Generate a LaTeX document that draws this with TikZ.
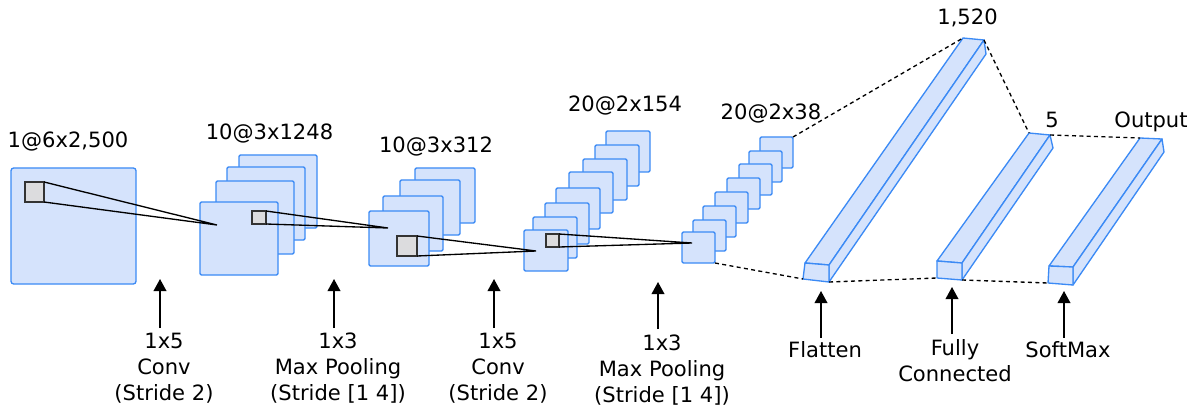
\documentclass[tikz,border=0pt]{standalone}
\usepackage{fontspec}
\setmainfont{DejaVu Sans}
\usetikzlibrary{arrows.meta}
\definecolor{mapfill}{HTML}{D5E3FC}
\definecolor{mapline}{HTML}{3B8AF5}
\definecolor{kerfill}{HTML}{DCDCDE}
\definecolor{kerline}{HTML}{333333}

\begin{document}
\begin{tikzpicture}[x=0.75pt, y=-0.75pt, >={Triangle[width=9.5pt,length=9pt]},
    fmap/.style={draw=mapline, fill=mapfill, line width=1pt, rounded corners=1pt,
      anchor=north west, inner sep=0pt, outer sep=0pt},
    kern/.style={draw=kerline, fill=kerfill, line width=1pt, anchor=north west,
      inner sep=0pt, outer sep=0pt},
    bar/.style={draw=mapline, fill=mapfill, line width=1pt, line join=round},
    ray/.style={line width=1pt},
    link/.style={line width=1pt, dash pattern=on 3pt off 2.5pt},
    txt/.style={font=\fontsize{15.8}{19.5}\selectfont, inner sep=0pt},
    lab/.style={txt, align=center, anchor=north}]
    \useasboundingbox (0,0) rectangle (1199,406);
    % input
    \node[fmap, rounded corners=2pt, minimum width=93.75pt, minimum height=87pt] (In) at (11,168) {};
    \node[kern, minimum width=14.25pt, minimum height=15pt] (KIn) at (25,182) {};
    % conv 1
    \foreach \x/\y [count=\i] in {239/155,227/167,216/181,200/202}
        \node[fmap, minimum width=58.5pt, minimum height=54.75pt] (Cv\i) at (\x,\y) {};
    \node[kern, minimum width=10.5pt, minimum height=9.75pt] (KCv) at (252,211) {};
    % pool 1
    \foreach \x/\y [count=\i] in {415/168,400/180,383/196,369/211}
        \node[fmap, minimum width=45pt, minimum height=41.25pt] (Pl\i) at (\x,\y) {};
    \node[kern, minimum width=15pt, minimum height=15pt] (KPl) at (397,236) {};
    % conv 2
    \foreach \x/\y [count=\i] in {606/131,595/145,583/159,569/172,556/188,545/203,533/217,524/230}
        \node[fmap, minimum width=33pt, minimum height=30.75pt] (Cw\i) at (\x,\y) {};
    \node[kern, minimum width=9.75pt, minimum height=9.75pt] (KCw) at (546,234) {};
    % pool 2
    \foreach \x/\y [count=\i] in {760/137,749/151,739/164,727/178,715/192,703/206,693/220,682/232}
        \node[fmap, minimum width=24.75pt, minimum height=23.25pt] (Pm\i) at (\x,\y) {};
    % receptive fields
    \coordinate (Apex1) at (217,225);
    \coordinate (Apex2) at (388,228);
    \coordinate (Apex3) at (536,251);
    \coordinate (Apex4) at (692,243);
    \draw[ray] (KIn.north east) -- (Apex1) -- (KIn.south east);
    \draw[ray] (KCv.north east) -- (Apex2) -- (KCv.south east);
    \draw[ray] (KPl.north east) -- (Apex3) -- (KPl.south east);
    \draw[ray] (KCw.north east) -- (Apex4) -- (KCw.south east);
    % dense bars
    \coordinate (FlA) at (805,263); \coordinate (FlB) at (829,265); \coordinate (FlC) at (829,282);
    \coordinate (FlD) at (803,279); \coordinate (FlE) at (963,38);  \coordinate (FlF) at (984,40);
    \coordinate (FlG) at (986,54);
    \coordinate (FcA) at (937,261); \coordinate (FcB) at (962,263); \coordinate (FcC) at (962,280);
    \coordinate (FcD) at (937,278); \coordinate (FcE) at (1029,133); \coordinate (FcF) at (1050,135);
    \coordinate (FcG) at (1053,148);
    \coordinate (OutA) at (1049,266); \coordinate (OutB) at (1073,267); \coordinate (OutC) at (1073,285);
    \coordinate (OutD) at (1048,283); \coordinate (OutE) at (1140,138); \coordinate (OutF) at (1162,139);
    \coordinate (OutG) at (1164,152);
    \foreach \b in {Fl,Fc,Out} {
        \draw[bar] (\b A) -- (\b B) -- (\b F) -- (\b E) -- cycle;
        \draw[bar] (\b B) -- (\b C) -- (\b G) -- (\b F) -- cycle;
        \draw[bar] (\b A) -- (\b B) -- (\b C) -- (\b D) -- cycle;
    }
    \draw[link] (Pm1.north east) -- (FlE);
    \draw[link] (Pm8.south east) -- (FlD);
    \draw[link] (FlF) -- (FcE);
    \draw[link] (FcF) -- (OutE);
    \draw[link] (FlC) -- (FcD);
    \draw[link] (FcC) -- (OutD);
    % sizes
    \node[txt, anchor=base] (SzIn) at (68,148) {1@6x2,500};
    \node[txt, anchor=base] (SzCv) at (269.5,140) {10@3x1248};
    \node[txt, anchor=base] (SzPl) at (436,153) {10@3x312};
    \node[txt, anchor=base] (SzCw) at (625,112) {20@2x154};
    \node[txt, anchor=base] (SzPm) at (771,120) {20@2x38};
    \node[txt, anchor=base] (SzFl) at (967.5,25) {1,520};
    \node[txt, anchor=base] (SzFc) at (1052,128) {5};
    \node[txt, anchor=base] (SzOut) at (1151,128) {Output};
    % operations
    \node[lab] (OpA) at (164,333) {1x5\\Conv\\(Stride 2)};
    \node[lab] (OpB) at (338,333) {1x3\\Max Pooling\\(Stride [1 4])};
    \node[lab] (OpC) at (498,333) {1x5\\Conv\\(Stride 2)};
    \node[lab] (OpD) at (662,335) {1x3\\Max Pooling\\(Stride [1 4])};
    \node[lab] (OpE) at (825,341.5) {Flatten};
    \node[lab] (OpF) at (955,339) {Fully\\Connected};
    \node[lab] (OpG) at (1068,341.5) {SoftMax};
    \coordinate (TipA) at (160,279);
    \coordinate (TipB) at (334,279);
    \coordinate (TipC) at (494,279);
    \coordinate (TipD) at (658,282);
    \coordinate (TipE) at (821,291);
    \coordinate (TipF) at (952,287);
    \coordinate (TipG) at (1064,291);
    \foreach \t/\e in {A/5,B/5,C/5,D/6,E/4,F/5,G/4}
        \draw[->, line width=1.1pt] ([yshift=\e*0.75pt]Tip\t |- Op\t.north) -- (Tip\t);
\end{tikzpicture}
\end{document}
